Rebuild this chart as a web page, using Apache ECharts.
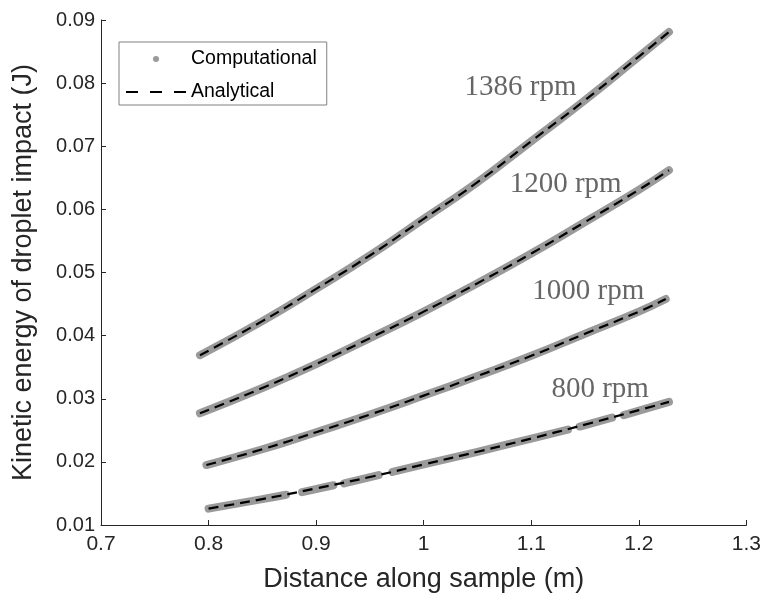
<!DOCTYPE html>
<html>
<head>
<meta charset="utf-8">
<script src="https://cdn.jsdelivr.net/npm/echarts@6/dist/echarts.min.js"></script>
<style>
  html, body { margin: 0; padding: 0; background: #fff; }
  #chart { width: 764px; height: 601px; }
</style>
</head>
<body>
<div id="chart"></div>
<script>
// ---- data ----
const X_1386 = [0.792, 0.85, 0.90, 0.95, 1.00, 1.05, 1.10, 1.15, 1.20, 1.228];
const Y_1386 = [0.0369, 0.0423, 0.0474, 0.0527, 0.0585, 0.0643, 0.0708, 0.0773, 0.0842, 0.0881];

const X_1200 = [0.792, 0.85, 0.90, 0.95, 1.00, 1.05, 1.10, 1.15, 1.20, 1.228];
const Y_1200 = [0.0277, 0.0317, 0.0355, 0.0396, 0.0438, 0.0483, 0.0530, 0.0580, 0.0631, 0.0662];

const X_1000 = [0.798, 0.85, 0.90, 0.95, 1.00, 1.05, 1.10, 1.15, 1.20, 1.225];
const Y_1000 = [0.0195, 0.0220, 0.0247, 0.0275, 0.0305, 0.0336, 0.0368, 0.0403, 0.0438, 0.0458];

const X_800 = [0.800, 0.85, 0.90, 0.95, 1.00, 1.05, 1.10, 1.15, 1.20, 1.228];
const Y_800 = [0.0126, 0.0141, 0.0158, 0.0176, 0.0196, 0.0216, 0.0237, 0.0259, 0.0282, 0.0295];

// computational 800 rpm has a few small holes in it (null = hole)
const COMP_800 = [
  [0.800, 0.0126], [0.850, 0.0141], [0.872, 0.0148], [0.880, null],
  [0.887, 0.0152], [0.916, 0.0163], [0.921, null],
  [0.926, 0.0166], [0.958, 0.0179], [0.965, null],
  [0.971, 0.0184], [1.000, 0.0196], [1.050, 0.0216], [1.100, 0.0237], [1.134, 0.0251], [1.139, null],
  [1.145, 0.0256], [1.175, 0.0270], [1.180, null],
  [1.186, 0.0274], [1.228, 0.0295]
];

const RPM_LABELS = ["1386 rpm", "1200 rpm", "1000 rpm", "800 rpm"];
const RPM_LABEL_X = [1.090, 1.132, 1.153, 1.164];
const RPM_LABEL_Y = [0.0794, 0.0640, 0.0470, 0.0315];

const X_TICKS = [0.7, 0.8, 0.9, 1.0, 1.1, 1.2, 1.3];
const Y_TICKS = [0.01, 0.02, 0.03, 0.04, 0.05, 0.06, 0.07, 0.08, 0.09];

// ---- styles ----
const COL_COMP = "#9a9a9a";
const COL_AXIS = "#262626";
const SANS = "'Liberation Sans', Arial, sans-serif";
const SERIF = "'Liberation Serif', 'Times New Roman', serif";

function pairs(xs, ys) {
  return xs.map((x, i) => [x, ys[i]]);
}

function compSeries(data) {
  return {
    name: "Computational",
    type: "line",
    data: data,
    smooth: true,
    showSymbol: false,
    symbol: "none",
    silent: true,
    lineStyle: { color: COL_COMP, width: 8, cap: "round", join: "round" },
    itemStyle: { color: COL_COMP },
    z: 2
  };
}

function anaSeries(data) {
  return {
    name: "Analytical",
    type: "line",
    data: data,
    smooth: true,
    showSymbol: false,
    symbol: "none",
    silent: true,
    lineStyle: { color: "#000", width: 2.2, type: [10, 6] },
    itemStyle: { color: "#000" },
    z: 3
  };
}

const chart = echarts.init(document.getElementById("chart"), null, { renderer: "canvas" });

const option = {
  animation: false,
  backgroundColor: "#fff",
  grid: { left: 101, right: 15, top: 20, bottom: 76, containLabel: false },

  xAxis: {
    type: "value",
    min: X_TICKS[0],
    max: X_TICKS[X_TICKS.length - 1],
    interval: 0.1,
    name: "Distance along sample (m)",
    nameLocation: "middle",
    nameGap: 41,
    nameTextStyle: { color: COL_AXIS, fontFamily: SANS, fontSize: 27 },
    axisLine: { lineStyle: { color: COL_AXIS, width: 1 } },
    axisTick: { inside: true, length: 5, lineStyle: { color: COL_AXIS } },
    axisLabel: {
      color: COL_AXIS, fontFamily: SANS, fontSize: 21, margin: 9,
      formatter: v => String(+v.toFixed(1))
    },
    splitLine: { show: false }
  },

  yAxis: {
    type: "value",
    min: Y_TICKS[0],
    max: Y_TICKS[Y_TICKS.length - 1],
    interval: 0.01,
    name: "Kinetic energy of droplet impact (J)",
    nameLocation: "middle",
    nameGap: 64,
    nameTextStyle: { color: COL_AXIS, fontFamily: SANS, fontSize: 27 },
    axisLine: { show: true, lineStyle: { color: COL_AXIS, width: 1 } },
    axisTick: { show: true, inside: true, length: 5, lineStyle: { color: COL_AXIS } },
    axisLabel: {
      color: COL_AXIS, fontFamily: SANS, fontSize: 20, margin: 6,
      formatter: v => v.toFixed(2)
    },
    splitLine: { show: false }
  },

  legend: {
    left: 119,
    top: 42,
    orient: "vertical",
    itemWidth: 60,
    itemHeight: 6,
    itemGap: 13,
    padding: [7, 10, 3, 6],
    borderColor: "#808080",
    borderWidth: 1,
    backgroundColor: "#fff",
    textStyle: { color: "#000", fontFamily: SANS, fontSize: 19.5 },
    data: [
      { name: "Computational", icon: "circle", itemStyle: { color: COL_COMP } },
      { name: "Analytical", itemStyle: { color: "transparent", borderWidth: 0 },
        lineStyle: { color: "#000", width: 2, type: [12, 12] } }
    ]
  },

  series: [
    compSeries(pairs(X_1386, Y_1386)),
    compSeries(pairs(X_1200, Y_1200)),
    compSeries(pairs(X_1000, Y_1000)),
    compSeries(COMP_800),
    anaSeries(pairs(X_1386, Y_1386)),
    anaSeries(pairs(X_1200, Y_1200)),
    anaSeries(pairs(X_1000, Y_1000)),
    anaSeries(pairs(X_800, Y_800)),
    {
      name: "rpm",
      type: "scatter",
      symbolSize: 0,
      silent: true,
      data: RPM_LABELS.map((t, i) => [RPM_LABEL_X[i], RPM_LABEL_Y[i], t]),
      label: {
        show: true,
        position: "inside",
        formatter: p => p.value[2],
        color: "#404040",
        fontFamily: SERIF,
        fontSize: 29
      },
      z: 5
    }
  ]
};

chart.setOption(option);
</script>
</body>
</html>
